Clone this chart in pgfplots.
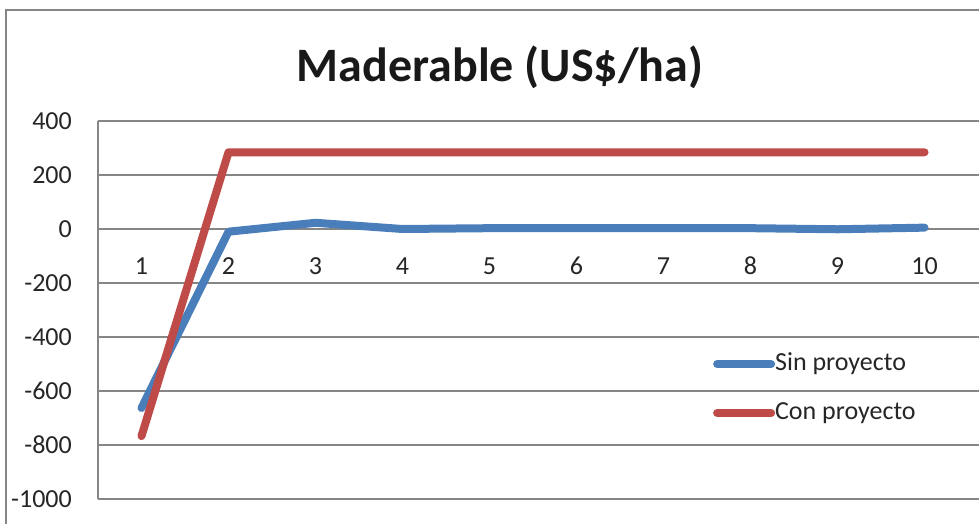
\documentclass[border=0pt]{standalone}
\usepackage{fontspec}
\setmainfont{Carlito}
\usepackage{pgfplots}
\pgfplotsset{compat=1.18}
\definecolor{sinc}{HTML}{4A7EBB}
\definecolor{conc}{HTML}{BE4B48}
\definecolor{gridc}{RGB}{134,134,134}
\begin{document}
\begin{tikzpicture}
\useasboundingbox (-98bp,-25bp) rectangle (881bp,499bp);
\fill[white] (-98bp,-25bp) rectangle (881bp,499bp);
\begin{axis}[
  at={(0bp,0bp)}, anchor=south west,
  scale only axis, width=881bp, height=378bp,
  xmin=0.5, xmax=10.626, ymin=-1000, ymax=400,
  axis x line*=middle, axis y line*=left,
  axis line style={gridc, line width=1.5bp, -},
  major tick length=0pt,
  xtick={1,2,3,4,5,6,7,8,9,10},
  xticklabels={1,2,3,4,5,6,7,8,9,10},
  ytick={-1000,-800,-600,-400,-200,0,200,400},
  yticklabels={-1000,-800,-600,-400,-200,0,200,400},
  ymajorgrids, grid style={gridc, line width=1.5bp},
  tick label style={font=\fontsize{26bp}{31bp}\selectfont, text=black!85},
  xticklabel style={anchor=center, inner sep=0pt, yshift=-37bp},
  yticklabel style={anchor=east, inner sep=0pt, xshift=-26bp},
  legend style={at={(0.698,0.389)}, anchor=north west, draw=none, fill=none,
    font=\fontsize{26bp}{31bp}\selectfont, text=black!85,
    inner sep=0pt, column sep=0pt, row sep=25bp,
    nodes={inner sep=0pt, text height=18bp, text depth=6bp}},
  legend cell align=left,
  legend image code/.code={\draw[#1, line width=8bp, line cap=round] (4bp,0bp) -- (58bp,0bp);},
  clip=false,
]
\addplot[sinc, line width=8bp, line cap=round, line join=round] coordinates {
  (1,-663) (2,-10) (3,23) (4,0) (5,3) (6,3) (7,3) (8,3) (9,-1) (10,5)};
\addlegendentry{Sin proyecto}
\addplot[conc, line width=8bp, line cap=round, line join=round] coordinates {
  (1,-767) (2,284) (3,284) (4,284) (5,284) (6,284) (7,284) (8,284) (9,284) (10,284)};
\addlegendentry{Con proyecto}
\end{axis}
\draw[gridc, line width=1.5bp] (-92bp,-25bp) -- (-92bp,489bp) -- (881bp,489bp);
\node[anchor=base, font=\fontsize{48bp}{56bp}\selectfont\bfseries, text=black!90] at (402bp,417bp) {Maderable (US\$/ha)};
\end{tikzpicture}
\end{document}
